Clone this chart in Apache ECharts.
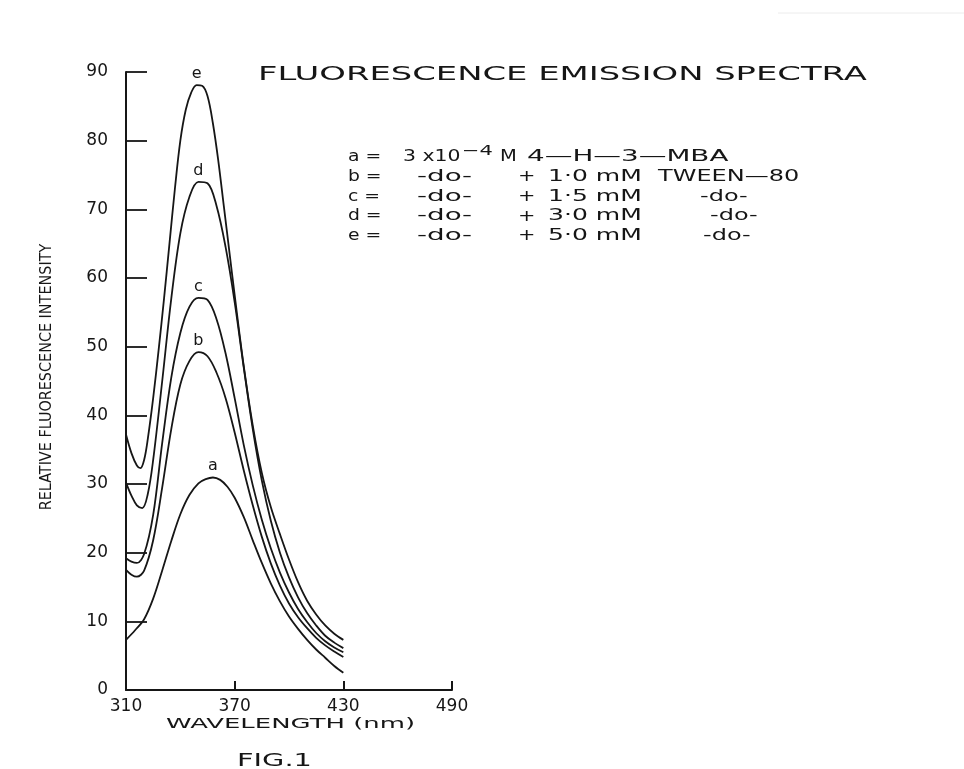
<!DOCTYPE html>
<html><head><meta charset="utf-8">
<script src="https://cdn.jsdelivr.net/npm/echarts@6/dist/echarts.min.js"></script>
<style>html,body{margin:0;padding:0;background:#fff}#c{width:964px;height:769px}</style>
</head><body><div id="c"></div>
<script>
// ---- data (wavelength nm, relative intensity) ----
const xTickValues = [310, 370, 430, 490];
const yTickValues = [0, 10, 20, 30, 40, 50, 60, 70, 80, 90];
const curveNames = ['a', 'b', 'c', 'd', 'e'];
const curveA = [[310,7.3],[315,8.7],[320,10.3],[325,13.3],[330,17.4],[335,21.7],[340,25.6],[345,28.4],[350,30.1],[354,30.7],[358,30.95],[362,30.6],[366,29.6],[370,28.0],[375,25.2],[380,21.8],[385,18.5],[390,15.5],[395,12.9],[400,10.7],[405,8.9],[410,7.3],[415,5.9],[420,4.7],[425,3.5],[430,2.5]];
const curveB = [[310,17.5],[313,16.8],[316,16.5],[320,17.4],[325,21.8],[330,29.5],[335,38.0],[340,44.5],[345,47.9],[350,49.2],[355,48.6],[360,46.2],[365,42.5],[370,37.5],[375,32.0],[380,26.9],[385,22.3],[390,18.4],[395,15.2],[400,12.6],[405,10.6],[410,9.0],[415,7.6],[420,6.5],[425,5.6],[430,4.8]];
const curveC = [[310,19.2],[313,18.7],[316,18.5],[320,19.8],[325,25.5],[330,36.0],[335,45.5],[340,52.0],[345,55.8],[350,57.1],[355,56.8],[360,54.0],[365,49.0],[370,42.5],[375,35.7],[380,29.8],[385,24.8],[390,20.6],[395,17.1],[400,14.2],[405,11.8],[410,9.9],[415,8.3],[420,7.1],[425,6.2],[430,5.5]];
const curveD = [[310,30.2],[313,28.3],[316,26.9],[319,26.5],[322,28.5],[325,33.5],[330,45.0],[335,57.0],[340,66.5],[345,71.8],[350,74.0],[355,73.8],[360,70.5],[365,64.5],[370,56.5],[375,47.0],[380,38.0],[385,30.5],[390,24.6],[395,20.0],[400,16.4],[405,13.5],[410,11.2],[415,9.4],[420,7.9],[425,6.9],[430,6.1]];
const curveE = [[310,37.2],[313,34.5],[316,32.7],[318,32.3],[320,33.5],[322,36.5],[325,42.5],[328,49.5],[331,57.0],[334,65.0],[337,73.0],[340,80.0],[343,84.5],[346,87.0],[349,88.1],[352,88.0],[355,86.5],[358,82.5],[361,77.0],[364,70.5],[367,64.0],[370,57.5],[375,47.2],[380,38.5],[385,31.6],[390,26.6],[395,22.7],[400,19.0],[405,15.7],[410,13.0],[415,11.0],[420,9.4],[425,8.2],[430,7.3]];
const curves = [curveA, curveB, curveC, curveD, curveE];

const titleText = 'FLUORESCENCE EMISSION SPECTRA';
const xAxisTitle = 'WAVELENGTH (nm)';
const yAxisTitle = 'RELATIVE FLUORESCENCE INTENSITY';
const figText = 'FIG.1';

const INK = '#161616';
const FONT = '"DejaVu Sans", sans-serif';

function peakOf(arr) {
  let best = arr[0];
  arr.forEach(p => { if (p[1] > best[1]) best = p; });
  return best;
}

const series = curves.map((data, i) => ({
  type: 'line',
  name: curveNames[i],
  data: data,
  smooth: 0.35,
  symbol: 'none',
  lineStyle: { color: INK, width: 1.8 },
  z: 3,
  markPoint: {
    symbol: 'circle',
    symbolSize: 1,
    itemStyle: { color: 'rgba(0,0,0,0)' },
    label: { show: true, position: 'top', distance: 3, formatter: curveNames[i],
             color: INK, fontFamily: FONT, fontSize: 16 },
    data: [{ coord: peakOf(data) }]
  }
}));

function txt(x, y, text, size, scaleX, extra) {
  return Object.assign({
    type: 'text', x: x, y: y, scaleX: scaleX || 1,
    style: { text: text, font: size + 'px ' + FONT, fill: INK,
             textAlign: 'left', textVerticalAlign: 'middle' }
  }, extra || {});
}

// legend block rows
const rowY = [157, 177, 197, 216.5, 236];
const graphics = [
  { type: 'line', shape: { x1: 778, y1: 13, x2: 964, y2: 13 }, style: { stroke: '#ececec', lineWidth: 1 } },
  txt(258, 75, titleText, 20, 1.69),
  // row a
  txt(348, rowY[0], 'a =', 15, 1.25),
  txt(403, rowY[0], '3 x10', 15, 1.36),
  txt(462, rowY[0] - 6, '−4', 14, 1.5),
  txt(500, rowY[0], 'M', 15, 1.3),
  txt(527, rowY[0], '4—H—3—MBA', 15, 1.85),
];
const rowLetters = ['b =', 'c =', 'd =', 'e ='];
const rowConc = ['1·0 mM', '1·5 mM', '3·0 mM', '5·0 mM'];
const rowLast = ['TWEEN—80', '-do-', '-do-', '-do-'];
const rowLastX = [658, 700, 710, 703];
rowLetters.forEach((l, k) => {
  const y = rowY[k + 1];
  graphics.push(txt(348, y, l, 15, 1.25));
  graphics.push(txt(417, y, '-do-', 15, 1.85));
  graphics.push(txt(518, y, '+', 16, 1.3));
  graphics.push(txt(548, y, rowConc[k], 15, 1.67));
  graphics.push(txt(rowLastX[k], y, rowLast[k], 15, 1.6));
});
graphics.push(txt(166, 724, xAxisTitle, 14, 1.85));
graphics.push(txt(237, 761, figText, 18, 1.6));
graphics.push({
  type: 'text', x: 47, y: 377, rotation: Math.PI / 2,
  style: { text: yAxisTitle, font: '16px "Liberation Sans Narrow", "DejaVu Sans Condensed", sans-serif',
           fill: INK, textAlign: 'center', textVerticalAlign: 'middle' }
});

const chart = echarts.init(document.getElementById('c'), null, { renderer: 'canvas' });
chart.setOption({
  animation: false,
  backgroundColor: '#fff',
  grid: { left: 126, right: 512, top: 72, bottom: 79 },
  xAxis: {
    type: 'value', min: xTickValues[0], max: xTickValues[xTickValues.length - 1], interval: 60,
    axisLine: { show: true, lineStyle: { color: INK, width: 2 } },
    axisTick: { show: true, inside: true, length: 9, lineStyle: { color: INK, width: 2 } },
    axisLabel: { color: INK, fontFamily: FONT, fontSize: 17, margin: 8 },
    splitLine: { show: false }
  },
  yAxis: {
    type: 'value', min: yTickValues[0], max: yTickValues[yTickValues.length - 1], interval: 10,
    axisLine: { show: true, lineStyle: { color: INK, width: 2 } },
    axisTick: { show: true, inside: true, length: 21, lineStyle: { color: INK, width: 1.8 } },
    axisLabel: { color: INK, fontFamily: FONT, fontSize: 17, margin: 18 },
    splitLine: { show: false }
  },
  series: series,
  graphic: graphics
});
</script></body></html>
